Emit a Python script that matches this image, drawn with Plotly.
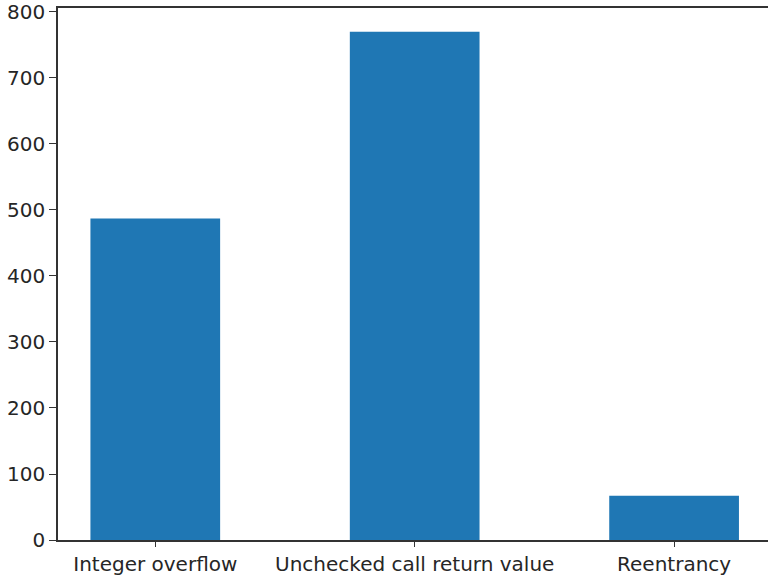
import plotly.graph_objects as go

categories = ["Integer overflow", "Unchecked call return value", "Reentrancy"]
values = [487, 770, 67]
y_ticks = [0, 100, 200, 300, 400, 500, 600, 700, 800]

fig = go.Figure()
fig.add_trace(go.Bar(x=categories, y=values, width=0.5, marker=dict(color="#1f77b4", line=dict(width=0))))

font = dict(family="DejaVu Sans", size=20, color="#262626")
fig.update_layout(
    width=768, height=576,
    margin=dict(l=58, r=0, t=8, b=36),
    paper_bgcolor="white", plot_bgcolor="white",
    showlegend=False,
    font=font,
)
fig.update_xaxes(
    type="category", range=[-0.375, 2.362],
    showline=True, linecolor="#333333", linewidth=1.5, mirror=True,
    ticks="outside", ticklen=5, tickcolor="#333333", tickwidth=1.3,
    showgrid=False, zeroline=False, tickfont=font,
)
fig.update_yaxes(
    range=[0, 806], tickvals=y_ticks,
    showline=True, linecolor="#333333", linewidth=1.5, mirror=False,
    ticks="outside", ticklen=7, tickcolor="#333333", tickwidth=1.3,
    showgrid=False, zeroline=False, tickfont=font,
    ticklabeloverflow="allow",
)
fig.write_html("out.html")
